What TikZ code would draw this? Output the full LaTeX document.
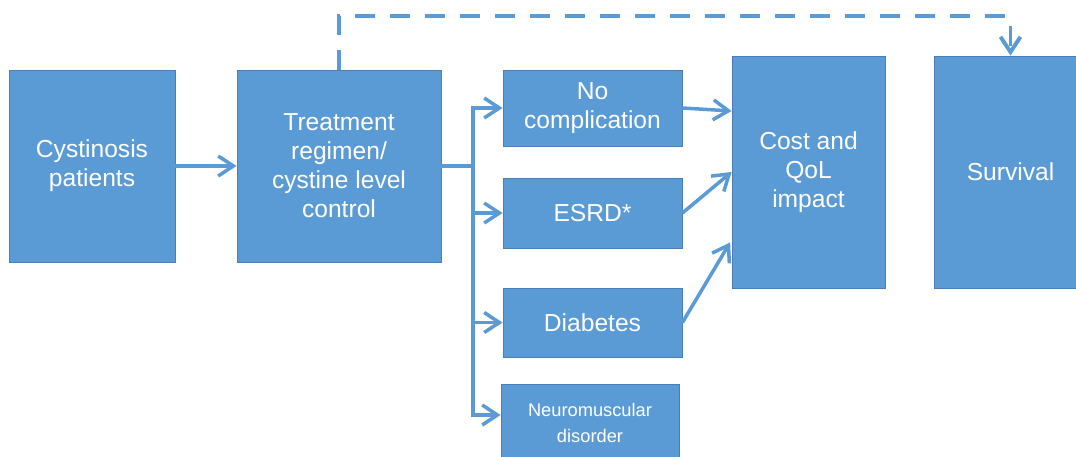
\documentclass[tikz,border=0pt]{standalone}
\usepackage{fontspec}
\setmainfont{Liberation Sans}
\usetikzlibrary{arrows.meta}
\definecolor{boxblue}{HTML}{5B9BD5}
\definecolor{boxedge}{HTML}{4A7EBB}

\begin{document}
\begin{tikzpicture}[
  box/.style={rectangle, draw=boxedge, line width=0.6pt, fill=boxblue, text=white,
    align=center, inner sep=0pt, font=\fontsize{17.5}{20.6}\selectfont},
  smallbox/.style={box, font=\fontsize{13}{19}\selectfont},
  link/.style={draw=boxblue, line width=2.5pt, -{Straight Barb[length=0.38cm,width=0.5cm]}}]
\useasboundingbox (0,0) rectangle (26.9,11.4);
\clip (0,0) rectangle (26.9,11.4);
\node[box, minimum width=4.15cm, minimum height=4.8cm] (cyst) at (2.30,7.25) {Cystinosis\\patients};
\node[box, minimum width=5.10cm, minimum height=4.8cm] (treat) at (8.475,7.25) {Treatment\\regimen/\\cystine level\\control};
\node[box, minimum width=4.475cm, minimum height=1.90cm] (nocomp) at (14.8125,8.70) {No\\complication};
\node[box, minimum width=4.475cm, minimum height=1.75cm] (esrd) at (14.8125,6.075) {ESRD*};
\node[box, minimum width=4.475cm, minimum height=1.725cm] (diab) at (14.8125,3.3375) {Diabetes};
\node[smallbox, minimum width=4.45cm, minimum height=1.95cm] (neuro) at (14.75,0.825) {Neuromuscular\\disorder};
\node[box, minimum width=3.825cm, minimum height=5.8cm] (cost) at (20.2125,7.10) {Cost and\\QoL\\impact};
\node[box, minimum width=3.825cm, minimum height=5.8cm] (surv) at (25.2625,7.10) {Survival};
\coordinate (split) at (11.825,7.25);
\coordinate (top) at (8.475,11.00);
% main flow
\draw[link] (cyst) -- (treat);
\draw[link, -] (treat.east) -- (split);
\draw[link] (split) |- (nocomp.west);
\draw[link] (split) |- (esrd.west);
\draw[link] (split) |- (diab.west);
\draw[link] (split) |- ([yshift=0.2cm]neuro.west);
% outcomes
\draw[link] (nocomp.east) -- ([yshift=1.525cm]cost.west);
\draw[link] (esrd.east) -- (cost.west);
\draw[link, shorten >=2pt] (diab.east) -- ([yshift=-1.7cm]cost.west);
\draw[link, line width=2.8pt, dash pattern=on 0.5cm off 0.375cm] (treat.north) -- (top) -| (surv.north);
\end{tikzpicture}
\end{document}
